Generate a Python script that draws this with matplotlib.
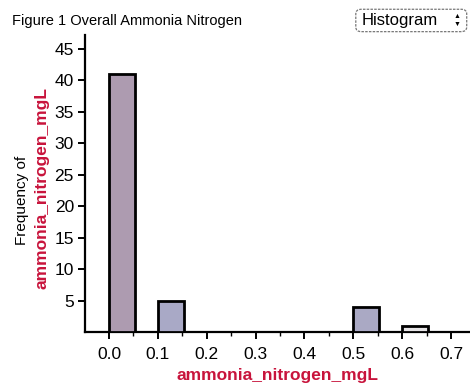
import matplotlib.pyplot as plt
from matplotlib.patches import FancyBboxPatch
from matplotlib.ticker import MultipleLocator

plt.rcParams["font.family"] = ["Liberation Sans", "DejaVu Sans"]

# histogram bins (left edge, mgL) and counts
bin_left = [0.0, 0.1, 0.5, 0.6]
counts = [41, 5, 4, 1]
bin_width = 0.053
bar_colors = ["#ad9bb0", "#a9a9c6", "#aaa9c4", "#e6e4e6"]

xticks = [0.0, 0.1, 0.2, 0.3, 0.4, 0.5, 0.6, 0.7]
yticks = [5, 10, 15, 20, 25, 30, 35, 40, 45]

title = "Figure 1 Overall Ammonia Nitrogen"
var_name = "ammonia_nitrogen_mgL"
red = "#c8143c"

fig = plt.figure(figsize=(4.70, 3.86), dpi=100)
ax = fig.add_axes([0.181, 0.140, 0.819, 0.769])

ax.bar(bin_left, counts, width=bin_width, align="edge",
       color=bar_colors, edgecolor="black", linewidth=2.0, zorder=3)

ax.set_xlim(-0.049, 0.739)
ax.set_ylim(0, 47.2)
ax.set_xticks(xticks)
ax.set_xticklabels([f"{v:.1f}" for v in xticks])
ax.xaxis.set_minor_locator(MultipleLocator(0.05))
ax.set_yticks(yticks)

for side in ("top", "right"):
    ax.spines[side].set_visible(False)
ax.spines["left"].set_linewidth(1.6)
ax.spines["bottom"].set_linewidth(1.6)
ax.tick_params(axis="both", which="major", labelsize=12.5, width=1.4, length=5, pad=3)
ax.tick_params(axis="x", which="minor", width=1.0, length=3)
ax.tick_params(axis="x", which="major", pad=6)

ax.set_xlabel(var_name, color=red, fontsize=12.5, fontweight="bold", labelpad=4)

# two-line y label: plain caption plus variable name in red
fig.text(0.047, 0.482, "Frequency of", rotation=90, fontsize=11,
         ha="center", va="center")
fig.text(0.090, 0.513, var_name, rotation=90, fontsize=12.5, color=red,
         fontweight="bold", ha="center", va="center")

fig.text(0.026, 0.945, title, fontsize=10.5, ha="left", va="center")

# "Histogram" selector box
box = FancyBboxPatch((0.757, 0.918), 0.236, 0.058, transform=fig.transFigure,
                     boxstyle="round,pad=0,rounding_size=0.012",
                     facecolor="white", edgecolor="#777777", linewidth=0.9,
                     linestyle=(0, (2, 1)))
fig.add_artist(box)
fig.text(0.770, 0.947, "Histogram", fontsize=12, ha="left", va="center")
fig.text(0.973, 0.956, "\u25b2", fontsize=5, ha="center", va="center")
fig.text(0.973, 0.936, "\u25bc", fontsize=5, ha="center", va="center")

fig.savefig("out.png", dpi=100)
